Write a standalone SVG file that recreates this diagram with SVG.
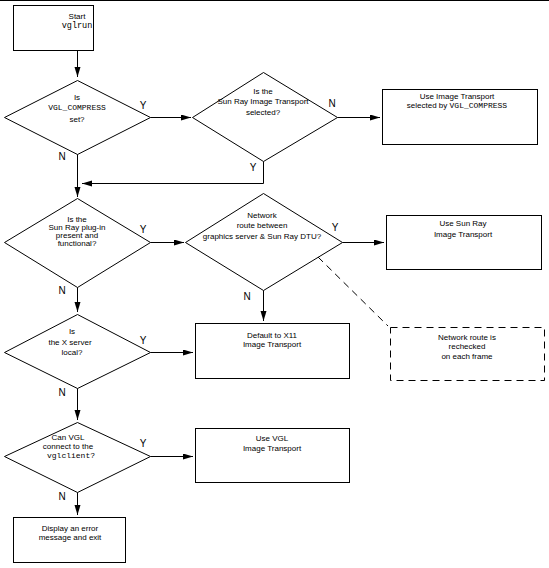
<svg xmlns="http://www.w3.org/2000/svg" width="549" height="568" viewBox="0 0 549 568">
<style>
.s{fill:#fff;stroke:#000;stroke-width:1}
.t{font-family:"Liberation Sans",Arial,sans-serif;font-size:8px;fill:#000;text-anchor:middle}
.m{font-family:"Liberation Mono","Courier New",monospace;font-size:8px;fill:#000}
.yn{font-family:"Liberation Sans",Arial,sans-serif;font-size:10px;fill:#000;text-anchor:middle}
.c{fill:none;stroke:#000;stroke-width:1}
.d{fill:none;stroke:#000;stroke-width:1;stroke-dasharray:7 5}
</style>
<defs>
<marker id="a" markerUnits="userSpaceOnUse" markerWidth="11" markerHeight="7" refX="10" refY="3" orient="auto">
<path d="M0,0 L10,3 L0,6 z" fill="#000"/>
</marker>
</defs>
<rect width="549" height="568" fill="#fff"/>
<line x1="0" y1="0.5" x2="549" y2="0.5" stroke="#000"/>

<g id="start">
<rect class="s" x="13.5" y="5.5" width="80" height="45"/>
<text class="t" x="77" y="18.5">Start</text>
<text class="t m" x="77" y="28" style="text-anchor:middle;font-size:8.5px">vglrun</text>
</g>

<g id="d1">
<polygon class="s" points="77.5,80.5 150.5,117.5 77.5,154.5 4.5,117.5"/>
<text class="t" x="77" y="100">Is</text>
<text class="t m" x="77" y="110" style="text-anchor:middle">VGL_COMPRESS</text>
<text class="t" x="77" y="121.5">set?</text>
</g>

<g id="d2">
<polygon class="s" points="263.5,72.5 337.5,117.5 263.5,161.5 192.5,117.5"/>
<text class="t" x="263" y="94">Is the</text>
<text class="t" x="263" y="104">Sun Ray Image Transport</text>
<text class="t" x="263" y="115">selected?</text>
</g>

<g id="b3">
<rect class="s" x="382.5" y="89.5" width="155" height="55"/>
<text class="t" x="457" y="99">Use Image Transport</text>
<text class="t" x="457" y="108">selected by <tspan class="m">VGL_COMPRESS</tspan></text>
</g>

<g id="d3">
<polygon class="s" points="77.5,198.5 150.5,242.5 77.5,287.5 4.5,242.5"/>
<text class="t" x="77" y="221.5">Is the</text>
<text class="t" x="77" y="229.5">Sun Ray plug-in</text>
<text class="t" x="77" y="238">present and</text>
<text class="t" x="77" y="246">functional?</text>
</g>

<g id="d4">
<polygon class="s" points="263.5,193.5 342.5,242.5 263.5,290.5 185.5,242.5"/>
<text class="t" x="262" y="218">Network</text>
<text class="t" x="262" y="228">route between</text>
<text class="t" x="262" y="239">graphics server &amp; Sun Ray DTU?</text>
</g>

<g id="b4">
<rect class="s" x="386.5" y="215.5" width="155" height="54"/>
<text class="t" x="463" y="226">Use Sun Ray</text>
<text class="t" x="463" y="237">Image Transport</text>
</g>

<g id="note">
<rect class="d" x="390.5" y="327.5" width="154" height="53" fill="#fff"/>
<text class="t" x="467" y="340">Network route is</text>
<text class="t" x="467" y="349">rechecked</text>
<text class="t" x="467" y="359">on each frame</text>
</g>

<g id="d5">
<polygon class="s" points="77.5,314.5 150.5,352.5 77.5,388.5 4.5,352.5"/>
<text class="t" x="72" y="334">Is</text>
<text class="t" x="70" y="345">the X server</text>
<text class="t" x="72" y="355">local?</text>
</g>

<g id="b5">
<rect class="s" x="195.5" y="323.5" width="154" height="55"/>
<text class="t" x="272" y="338">Default to X11</text>
<text class="t" x="272" y="347">Image Transport</text>
</g>

<g id="d6">
<polygon class="s" points="77.5,422.5 150.5,456.5 77.5,492.5 4.5,456.5"/>
<text class="t" x="68" y="440">Can VGL</text>
<text class="t" x="68" y="449">connect to the</text>
<text class="t m" x="71" y="458" style="text-anchor:middle">vglclient?</text>
</g>

<g id="b6">
<rect class="s" x="195.5" y="428.5" width="154" height="54"/>
<text class="t" x="272" y="441">Use VGL</text>
<text class="t" x="272" y="451">Image Transport</text>
</g>

<g id="end">
<rect class="s" x="13.5" y="517.5" width="112" height="45"/>
<text class="t" x="70" y="531">Display an error</text>
<text class="t" x="70" y="540">message and exit</text>
</g>

<g id="connectors">
<line class="c" x1="77.5" y1="50.5" x2="77.5" y2="77" marker-end="url(#a)"/>
<line class="c" x1="150.5" y1="117.5" x2="191" y2="117.5" marker-end="url(#a)"/>
<line class="c" x1="337.5" y1="117.5" x2="380" y2="117.5" marker-end="url(#a)"/>
<polyline class="c" points="263.5,161.5 263.5,183.5 82,183.5" marker-end="url(#a)"/>
<line class="c" x1="77.5" y1="154.5" x2="77.5" y2="197" marker-end="url(#a)"/>
<line class="c" x1="150.5" y1="242.5" x2="184" y2="242.5" marker-end="url(#a)"/>
<line class="c" x1="342.5" y1="242.5" x2="384" y2="242.5" marker-end="url(#a)"/>
<line class="c" x1="263.5" y1="290.5" x2="263.5" y2="321" marker-end="url(#a)"/>
<line class="c" x1="77.5" y1="287.5" x2="77.5" y2="312" marker-end="url(#a)"/>
<line class="c" x1="150.5" y1="352.5" x2="193" y2="352.5" marker-end="url(#a)"/>
<line class="c" x1="77.5" y1="388.5" x2="77.5" y2="420" marker-end="url(#a)"/>
<line class="c" x1="150.5" y1="456.5" x2="193" y2="456.5" marker-end="url(#a)"/>
<line class="c" x1="77.5" y1="492.5" x2="77.5" y2="515" marker-end="url(#a)"/>
<line class="d" x1="318" y1="257" x2="388" y2="326"/>
<text class="yn" x="143" y="109">Y</text>
<text class="yn" x="62" y="160">N</text>
<text class="yn" x="332" y="107">N</text>
<text class="yn" x="253" y="171">Y</text>
<text class="yn" x="143" y="233">Y</text>
<text class="yn" x="62" y="294">N</text>
<text class="yn" x="335" y="231">Y</text>
<text class="yn" x="247" y="300">N</text>
<text class="yn" x="143" y="344">Y</text>
<text class="yn" x="62" y="396">N</text>
<text class="yn" x="143" y="447">Y</text>
<text class="yn" x="62" y="500">N</text>
</g>
</svg>
